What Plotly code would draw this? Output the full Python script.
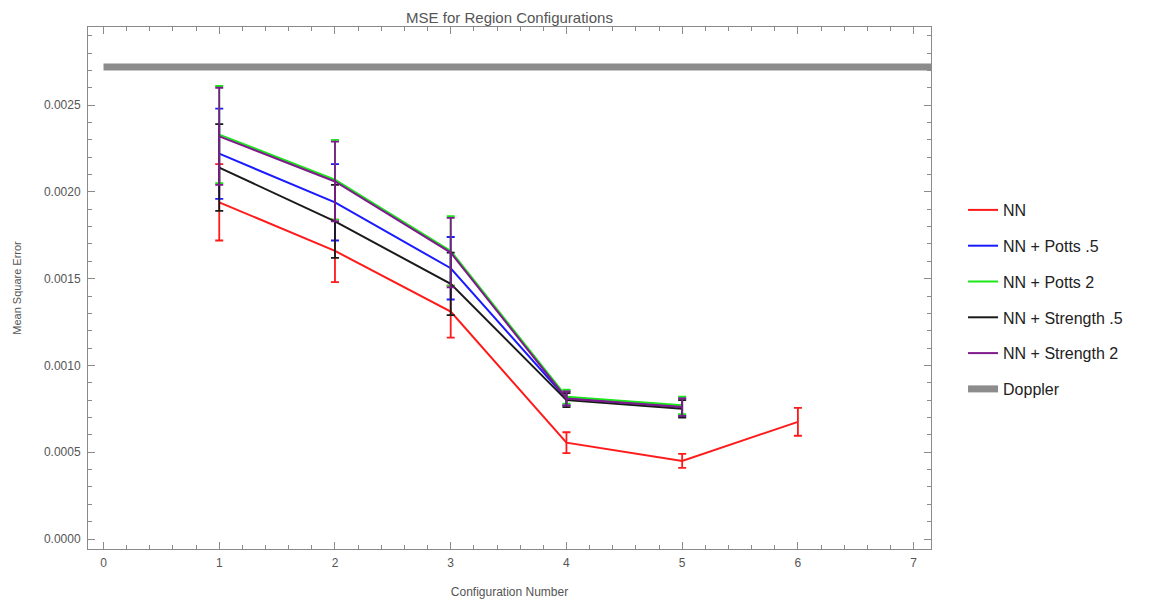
import plotly.graph_objects as go

config = [1, 2, 3, 4, 5, 6]
config_short = [1, 2, 3, 4, 5]

nn = [0.00194, 0.00166, 0.00131, 0.000555, 0.000450, 0.000675]
nn_err = [0.00022, 0.00018, 0.00015, 0.00006, 0.00004, 0.00008]

potts05 = [0.00222, 0.00194, 0.00156, 0.00081, 0.000760]
potts05_err = [0.00026, 0.00022, 0.00018, 0.00004, 0.00005]

potts2 = [0.00233, 0.00207, 0.00166, 0.00082, 0.000770]
potts2_err = [0.00028, 0.00023, 0.00020, 0.00004, 0.00005]

strength05 = [0.00214, 0.00183, 0.00147, 0.00080, 0.000750]
strength05_err = [0.00025, 0.00021, 0.00018, 0.00004, 0.00005]

strength2 = [0.00232, 0.00206, 0.00165, 0.00081, 0.000760]
strength2_err = [0.00028, 0.00023, 0.00020, 0.00004, 0.00005]

doppler_x = [0, 8]
doppler_value = 0.00272

series = [
    ("NN", config, nn, nn_err, "#FF1A1A"),
    ("NN + Potts .5", config_short, potts05, potts05_err, "#1A1AFF"),
    ("NN + Potts 2", config_short, potts2, potts2_err, "#1AE61A"),
    ("NN + Strength .5", config_short, strength05, strength05_err, "#1A1A1A"),
    ("NN + Strength 2", config_short, strength2, strength2_err, "#7F1A8C"),
]

fig = go.Figure()
for i, (name, xs, ys, es, col) in enumerate(series):
    fig.add_trace(go.Scatter(
        x=xs, y=ys, name=name, mode="lines",
        line=dict(color=col, width=2),
        error_y=dict(type="data", array=es, visible=True, color=col,
                     thickness=1.8, width=4),
        legendgroup="g%d" % i,
    ))

fig.add_trace(go.Scatter(
    x=doppler_x, y=[doppler_value] * len(doppler_x), name="Doppler", mode="lines",
    line=dict(color="#8C8C8C", width=7), legendgroup="g9",
))

axis_common = dict(
    showline=True, linecolor="#8A8A8A", linewidth=1, mirror="allticks",
    ticks="inside", ticklen=7, tickcolor="#8A8A8A", showgrid=False, zeroline=False,
    tickfont=dict(size=12, color="#555555"), automargin=False,
)

fig.update_layout(
    width=1156, height=603,
    margin=dict(l=80, r=233, t=19, b=62),
    paper_bgcolor="white", plot_bgcolor="white",
    font=dict(family="Liberation Sans, Arial, sans-serif"),
    title=dict(text="MSE for Region Configurations", x=0.5, xref="paper",
               y=0.992, yanchor="top", font=dict(size=15, color="#555555")),
    xaxis=dict(range=[-0.134, 7.15], dtick=1, tick0=0, ticklabelstandoff=3,
               minor=dict(dtick=0.2, ticks="inside", ticklen=4, tickcolor="#8A8A8A"),
               title=dict(text="Configuration Number", font=dict(size=12, color="#555555"), standoff=18),
               **axis_common),
    yaxis=dict(range=[-0.0000576, 0.00295], dtick=0.0005, tick0=0, tickformat=".4f",
               ticklabelstandoff=4,
               minor=dict(dtick=0.0001, ticks="inside", ticklen=4, tickcolor="#8A8A8A"),
               title=dict(text="Mean Square Error", font=dict(size=11, color="#555555"), standoff=20),
               **axis_common),
    legend=dict(x=1.038, xanchor="left", y=0.682, yanchor="top",
                font=dict(size=16, color="#222222"), tracegroupgap=12,
                traceorder="grouped", bgcolor="rgba(0,0,0,0)"),
)

fig.write_html("out.html")
